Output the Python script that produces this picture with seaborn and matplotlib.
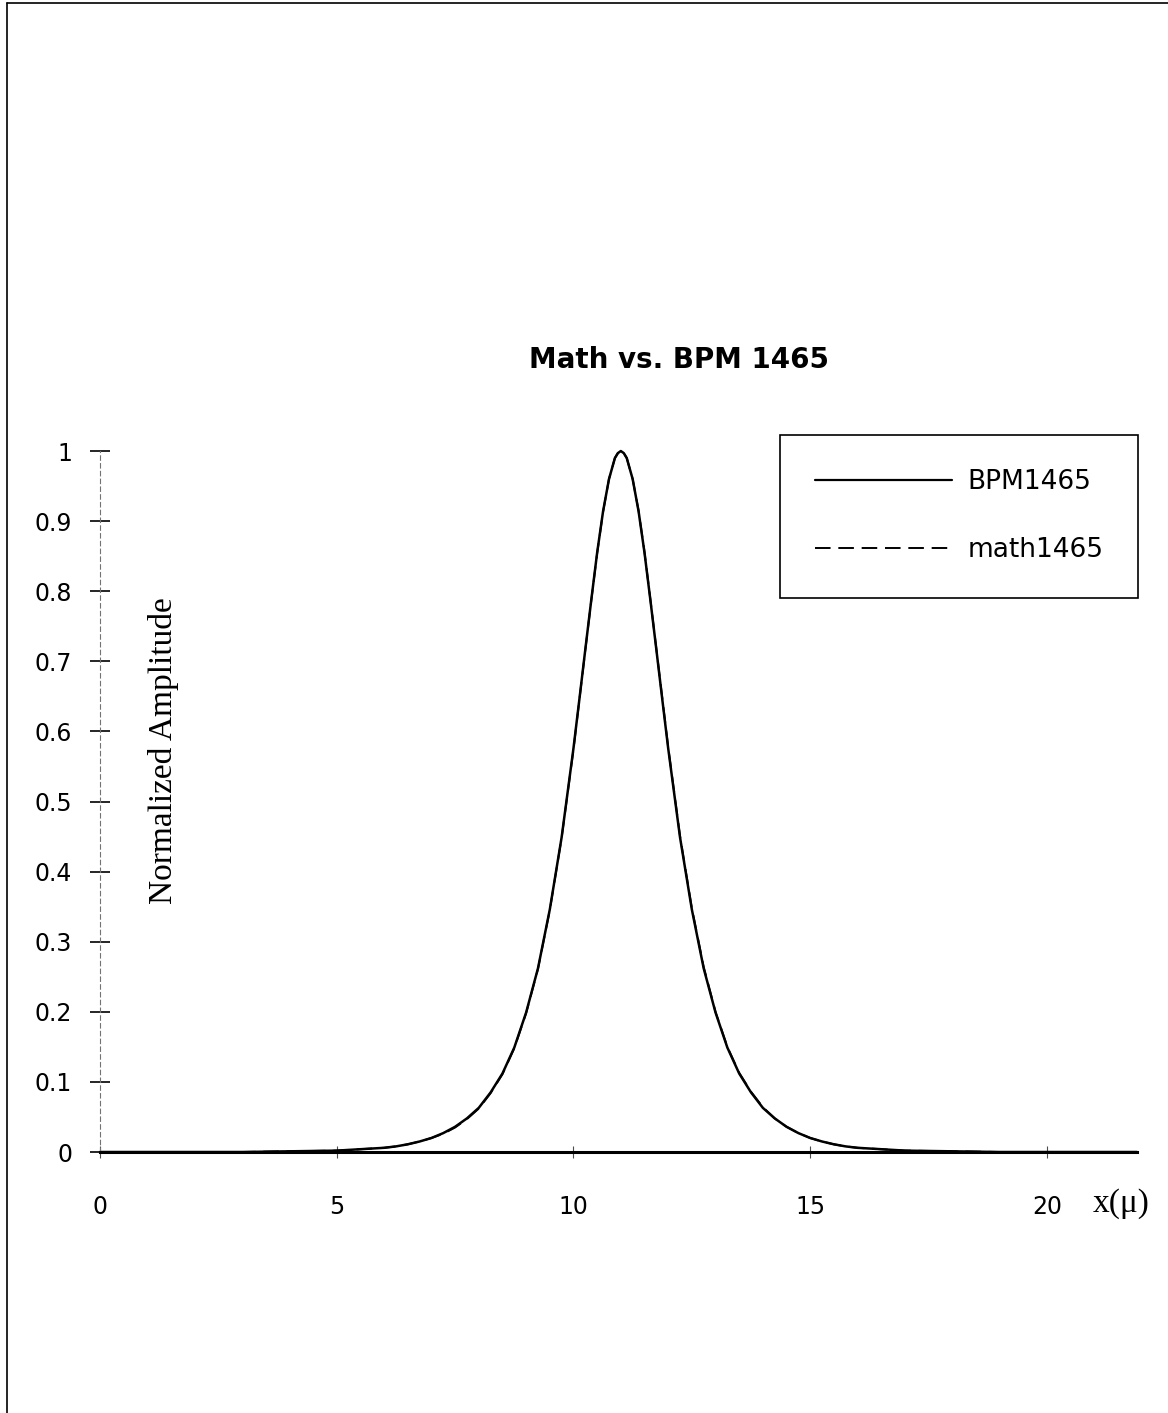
import pandas as pd
import seaborn as sns
import matplotlib.pyplot as plt
from matplotlib.lines import Line2D

# values
x_pos = [0, 1, 2, 3, 4, 5, 5.5, 6, 6.25, 6.5, 6.75, 7, 7.25, 7.5, 7.75,
         8, 8.25, 8.5, 8.75, 9, 9.25, 9.5, 9.75, 10, 10.125, 10.25, 10.375,
         10.5, 10.625, 10.75, 10.875, 10.9375, 11, 11.0625, 11.125, 11.25,
         11.375, 11.5, 11.625, 11.75, 11.875, 12, 12.25, 12.5, 12.75, 13,
         13.25, 13.5, 13.75, 14, 14.25, 14.5, 14.75, 15, 15.25, 15.5, 15.75,
         16, 16.5, 17, 18, 19, 20, 21, 21.9]
bpm1465 = [0.000, 0.000, 0.000, 0.000, 0.001, 0.002, 0.004, 0.006, 0.008,
           0.011, 0.015, 0.020, 0.027, 0.036, 0.048, 0.063, 0.085, 0.112,
           0.149, 0.199, 0.262, 0.346, 0.449, 0.576, 0.646, 0.717, 0.787,
           0.855, 0.914, 0.960, 0.990, 0.997, 1.000, 0.997, 0.990, 0.960,
           0.914, 0.855, 0.787, 0.717, 0.646, 0.576, 0.449, 0.346, 0.262,
           0.199, 0.149, 0.112, 0.085, 0.063, 0.048, 0.036, 0.027, 0.020,
           0.015, 0.011, 0.008, 0.006, 0.004, 0.002, 0.001, 0.000, 0.000,
           0.000, 0.000]
math1465 = [0.000, 0.000, 0.000, 0.000, 0.001, 0.002, 0.004, 0.006, 0.008,
            0.011, 0.015, 0.020, 0.026, 0.035, 0.047, 0.062, 0.084, 0.111,
            0.148, 0.198, 0.261, 0.345, 0.448, 0.574, 0.645, 0.716, 0.786,
            0.854, 0.913, 0.960, 0.990, 0.997, 1.000, 0.997, 0.990, 0.960,
            0.915, 0.856, 0.788, 0.718, 0.648, 0.578, 0.451, 0.348, 0.264,
            0.200, 0.150, 0.113, 0.086, 0.064, 0.048, 0.036, 0.027, 0.020,
            0.015, 0.011, 0.008, 0.006, 0.004, 0.002, 0.001, 0.000, 0.000,
            0.000, 0.000]
y_ticks = [0, 0.1, 0.2, 0.3, 0.4, 0.5, 0.6, 0.7, 0.8, 0.9, 1]
y_ticklabels = ['0', '0.1', '0.2', '0.3', '0.4', '0.5', '0.6', '0.7', '0.8', '0.9', '1']
x_ticks = [0, 5, 10, 15, 20]

df = pd.DataFrame({'x': x_pos, 'BPM1465': bpm1465, 'math1465': math1465})

sns.set_style('white')
plt.rcParams['font.family'] = ['DejaVu Sans']
plt.rcParams['text.color'] = 'black'
plt.rcParams['xtick.color'] = 'black'
plt.rcParams['ytick.color'] = 'black'
plt.rcParams['axes.labelcolor'] = 'black'

fig = plt.figure(figsize=(11.68, 14.13), dpi=100)
ax = fig.add_axes([0.0856, 0.1847, 0.8878, 0.4961])

sns.lineplot(data=df, x='x', y='BPM1465', ax=ax, color='black', lw=1.8, clip_on=False)
sns.lineplot(data=df, x='x', y='math1465', ax=ax, color='black', lw=1.4,
             linestyle=(0, (8, 4)), clip_on=False)

ax.set_xlim(0, 21.9)
ax.set_ylim(0, 1)
ax.set_xticks(x_ticks)
ax.set_yticks(y_ticks)
ax.set_yticklabels(y_ticklabels)
ax.set_xlabel('')
ax.set_ylabel('')

for s in ['top', 'right']:
    ax.spines[s].set_visible(False)
ax.spines['bottom'].set_linewidth(2.2)
ax.spines['bottom'].set_color('black')
ax.spines['left'].set_linewidth(0.8)
ax.spines['left'].set_color('0.45')
ax.spines['left'].set_linestyle((0, (4, 3)))

ax.tick_params(axis='y', direction='inout', length=14, width=1.2, color='black',
               labelsize=17, pad=13, left=True, labelcolor='black')
ax.tick_params(axis='x', direction='inout', length=8, width=0.8, color='0.3',
               labelsize=17, pad=27, bottom=True, labelcolor='black')

ax.set_title('Math vs. BPM 1465', fontweight='bold', fontsize=20, x=0.558, pad=60,
             color='black')

ax.text(0.061, 0.573, 'Normalized Amplitude', transform=ax.transAxes, rotation=90,
        ha='center', va='center', fontsize=24, color='black',
        family=['Liberation Serif', 'DejaVu Serif'])
ax.text(0.985, -0.074, 'x(\u03bc)', transform=ax.transAxes, ha='center', va='center',
        fontsize=24, color='black', family=['Liberation Serif', 'DejaVu Serif'])

handles = [Line2D([], [], color='black', lw=1.6),
           Line2D([], [], color='black', lw=1.4, linestyle=(0, (8, 4)))]
leg = ax.legend(handles, ['BPM1465', 'math1465'], loc='upper left',
                bbox_to_anchor=(0.656, 1.023), borderaxespad=0, fontsize=19,
                handlelength=5.2, handletextpad=0.6, borderpad=1.3,
                labelspacing=1.6, fancybox=False, framealpha=1, edgecolor='black',
                labelcolor='black')
leg.get_frame().set_linewidth(1.2)

# scan page border (left and top edges only)
fig.add_artist(Line2D([0.006, 0.006], [0.0, 0.998], color='black', lw=1.2))
fig.add_artist(Line2D([0.006, 1.0], [0.998, 0.998], color='black', lw=1.2))

fig.savefig('out.png', dpi=100)
